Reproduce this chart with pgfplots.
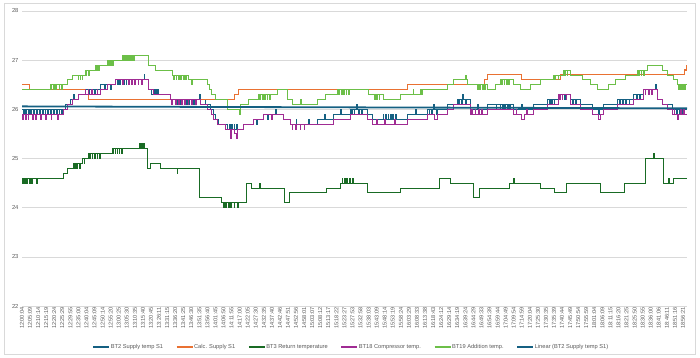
\documentclass[border=0pt]{standalone}
\usepackage{pgfplots}
\pgfplotsset{compat=1.18}
\usepackage{fontspec}
\setmainfont{Liberation Sans}
\definecolor{cBTtwo}{HTML}{156082}
\definecolor{cCalc}{HTML}{E97132}
\definecolor{cBTthree}{HTML}{196B24}
\definecolor{cBTeighteen}{HTML}{A02B93}
\definecolor{cBTnineteen}{HTML}{6CBF48}
\definecolor{cGrid}{HTML}{D9D9D9}
\definecolor{cText}{HTML}{595959}
\begin{document}
\begin{tikzpicture}[x=1pt,y=1pt]
\path[use as bounding box] (0,0) rectangle (700,358);
\draw[cGrid,line width=0.6pt] (4.5,4) rectangle (695,355);
\begin{axis}[
  at={(22pt,52pt)}, anchor=south west,
  scale only axis, width=665pt, height=295pt,
  xmin=0, xmax=82.5, ymin=22, ymax=28,
  ytick={22,23,24,25,26,27,28},
  xtick={0,...,82},
  xticklabels={12:00:04,12:05:09,12:10:14,12:15:19,12:20:24,12:25:29,12:29:55,12:35:00,12:40:04,12:45:09,12:50:14,12:55:20,13:00:25,13:05:30,13:10:35,13:15:40,13:20:45,13:26:11,13:31:15,13:36:20,13:41:25,13:46:30,13:51:35,13:56:40,14:01:45,14:06:50,14:11:55,14:17:00,14:22:05,14:27:30,14:32:35,14:37:40,14:42:46,14:47:51,14:52:56,14:58:01,15:03:07,15:08:12,15:13:17,15:18:22,15:23:27,15:27:53,15:32:58,15:38:03,15:43:09,15:48:14,15:53:19,15:58:24,16:03:29,16:08:33,16:13:38,16:18:43,16:24:12,16:29:14,16:34:19,16:39:24,16:44:29,16:49:33,16:54:39,16:59:44,17:04:49,17:09:54,17:14:59,17:20:04,17:25:30,17:30:35,17:35:39,17:40:44,17:45:49,17:50:54,17:55:59,18:01:04,18:06:09,18:11:15,18:16:20,18:21:25,18:25:50,18:30:55,18:36:00,18:41:06,18:46:11,18:51:16,18:56:21},
  x tick label style={rotate=90, anchor=east, font=\fontsize{5.6}{6}\selectfont, text=cText, inner sep=1pt},
  y tick label style={font=\fontsize{5.8}{6}\selectfont, text=cText},
  /pgf/number format/assume math mode=true,
  major tick length=0pt,
  axis x line*=bottom, axis y line*=left,
  axis line style={draw=none},
  ymajorgrids, grid style={cGrid, line width=0.6pt},
  clip=true,
  legend columns=6,
  legend style={at={(0.4947,-0.139)}, anchor=center, draw=none, fill=none,
    font=\fontsize{5.7}{6}\selectfont, text=cText,
    /tikz/every even column/.append style={column sep=12pt},
    nodes={inner sep=1pt}},
  legend image code/.code={\draw[line width=1.1pt,#1] (0pt,0pt) -- (16pt,0pt);},
]
% BT2 Supply temp S1
\addplot[const plot, cBTtwo, line width=0.9pt] coordinates {
(0,26.0)(0.15,25.9)(0.25,26.0)(0.45,25.9)(0.55,26.0)(0.8,25.9)(0.9,26.0)(1.1,25.9)(1.2,26.0)(1.45,25.9)(1.55,26.0)(1.8,25.9)(1.9,26.0)(2.15,25.9)(2.25,26.0)(2.5,25.9)(2.6,26.0)
(2.85,25.9)(2.95,26.0)(3.2,25.9)(3.3,26.0)(3.55,25.9)(3.65,26.0)(3.9,25.9)(4.0,26.0)(4.25,25.9)(4.35,26.0)(4.6,25.9)(4.7,26.0)(4.95,25.9)(5.05,26.0)
(5.33,26.1)(5.96,26.2)(6.4,26.3)(6.5,26.2)(6.95,26.3)(7.82,26.4)(8.3,26.3)(8.4,26.4)(9.0,26.3)(9.1,26.4)(9.68,26.5)(10.2,26.4)(10.3,26.5)(11.0,26.4)(11.1,26.5)
(11.54,26.6)(11.9,26.5)(12.0,26.6)(12.15,26.5)(12.25,26.6)(12.4,26.5)(12.5,26.6)(12.65,26.5)(12.75,26.6)(12.9,26.5)(13.0,26.6)(14.0,26.5)(14.1,26.6)(15.14,26.7)(15.25,26.6)
(15.63,26.4)(16.0,26.3)(16.3,26.4)(16.4,26.3)(16.55,26.4)(16.65,26.3)(16.8,26.4)(16.9,26.3)
(18.36,26.2)(19.2,26.1)(19.3,26.2)(19.5,26.1)(19.6,26.2)(19.8,26.1)(19.9,26.2)(20.1,26.1)(20.2,26.2)(20.4,26.1)(20.5,26.2)(20.7,26.1)(20.8,26.2)(21.0,26.1)(21.1,26.2)(21.3,26.1)(21.4,26.2)(22.0,26.3)(22.1,26.2)
(22.7,26.1)(23.33,26.0)(23.7,25.9)(23.95,25.8)(24.4,25.7)(25.43,25.6)(25.7,25.7)(25.8,25.6)(26.0,25.7)(26.1,25.6)(26.3,25.7)(26.4,25.6)(26.6,25.7)(26.7,25.6)
(27.42,25.7)(28.66,25.8)(29.1,25.7)(29.2,25.8)(29.9,25.9)(30.5,25.8)(30.6,25.9)(31.5,26.0)(31.6,25.9)(32.38,25.8)(33.25,25.7)(34.0,25.8)(34.1,25.7)(35.5,25.8)(35.6,25.7)
(36.6,25.8)(37.5,25.9)(37.6,25.8)(38.59,25.9)(39.5,26.0)(39.6,25.9)(40.69,26.0)(40.9,25.9)(41.0,26.0)(41.2,25.9)(41.3,26.0)(41.5,26.1)(41.6,26.0)(41.8,25.9)(41.9,26.0)(42.1,25.9)(42.2,26.0)
(42.8,25.9)(43.42,25.8)(44.8,25.9)(44.9,25.8)(45.1,25.9)(45.2,25.8)(45.4,25.9)(45.5,25.8)(45.7,25.9)(45.8,25.8)(46.0,25.9)(46.1,25.8)(46.3,25.9)(46.4,25.8)
(47.77,25.9)(48.8,26.0)(48.9,25.9)(50.25,26.0)(50.5,25.9)(50.6,26.0)(50.8,25.9)(50.9,26.0)(51.1,26.1)(51.2,26.0)(51.4,25.9)(51.5,26.0)
(52.73,26.1)(54.0,26.2)(54.2,26.1)(54.3,26.2)(54.5,26.1)(54.6,26.2)(54.7,26.3)(54.8,26.2)(55.0,26.1)(55.1,26.2)(55.58,26.0)(56.5,26.1)(56.6,26.0)(57.69,26.1)
(58.8,26.0)(58.9,26.1)(59.3,26.0)(59.4,26.1)(59.6,26.0)(59.7,26.1)(59.9,26.0)(60.0,26.1)(60.2,26.0)(60.3,26.1)(60.5,26.0)(60.6,26.1)
(60.92,26.0)(62.0,26.1)(62.1,26.0)(63.4,26.1)(65.14,26.2)(65.4,26.1)(65.5,26.2)(65.7,26.1)(65.8,26.2)(66.0,26.1)(66.1,26.2)
(66.5,26.3)(66.7,26.2)(66.8,26.3)(67.0,26.2)(67.1,26.3)(67.3,26.2)(67.4,26.3)(67.99,26.2)(68.3,26.1)(68.4,26.2)(68.7,26.1)(68.8,26.2)(69.23,26.1)(70.72,26.0)(71.5,25.9)(71.6,26.0)
(72.08,26.1)(73.82,26.2)(74.1,26.1)(74.2,26.2)(74.5,26.1)(74.6,26.2)(74.9,26.1)(75.0,26.2)(75.3,26.1)(75.4,26.2)
(75.81,26.3)(76.2,26.2)(76.3,26.3)(76.6,26.2)(76.7,26.3)(77.05,26.4)(78.54,26.5)(78.65,26.4)(78.78,26.2)(79.4,26.1)(80.65,26.0)
(80.9,25.9)(81.0,26.0)(81.2,25.9)(81.3,26.0)(81.5,25.9)(81.6,26.0)(81.8,25.9)(81.9,26.0)(82.1,25.9)(82.2,26.0)(82.5,26.0)
};
\addlegendentry{BT2 Supply temp S1}
% Calc. Supply S1
\addplot[const plot, cCalc, line width=1pt] coordinates {
(0,26.5)(0.99,26.4)(7.82,26.3)(8.19,26.2)(26.4,26.3)(26.8,26.4)(47.8,26.5)(57.4,26.6)(57.8,26.7)(62.0,26.6)(66.75,26.7)(82.2,26.8)(82.4,26.9)(82.5,26.9)
};
\addlegendentry{Calc. Supply S1}
% BT3 Return temperature
\addplot[const plot, cBTthree, line width=0.9pt] coordinates {
(0,24.6)(0.1,24.5)(0.2,24.6)(0.35,24.5)(0.45,24.6)(0.6,24.5)(0.7,24.6)(0.9,24.5)(1.0,24.6)(1.15,24.5)(1.25,24.6)(1.8,24.5)(1.9,24.6)
(5.09,24.7)(5.58,24.8)(6.33,24.9)(6.5,24.8)(6.6,24.9)(6.8,24.8)(6.9,24.9)(7.1,24.8)(7.2,24.9)(7.44,25.0)(7.7,24.9)(7.8,25.0)
(8.19,25.1)(8.4,25.0)(8.5,25.1)(8.7,25.0)(8.8,25.1)(9.0,25.0)(9.1,25.1)(9.3,25.0)(9.4,25.1)(9.6,25.0)(9.7,25.1)
(11.17,25.2)(11.3,25.1)(11.4,25.2)(11.55,25.1)(11.65,25.2)(11.8,25.1)(11.9,25.2)(12.05,25.1)(12.15,25.2)(12.3,25.1)(12.4,25.2)
(14.6,25.3)(14.7,25.2)(14.85,25.3)(14.95,25.2)(15.1,25.3)(15.2,25.2)
(15.51,24.8)(15.88,24.9)(17.12,24.8)(19.23,24.7)(19.3,24.8)
(22.0,24.2)(24.8,24.1)(25.0,24.0)(25.1,24.1)(25.3,24.0)(25.4,24.1)(25.6,24.0)(25.7,24.1)(25.9,24.0)(26.0,24.1)(26.3,24.0)(26.4,24.1)(26.7,24.0)(26.8,24.1)
(27.8,24.5)(28.5,24.4)(29.5,24.5)(29.6,24.4)(32.6,24.1)(33.2,24.3)(37.8,24.4)(39.5,24.5)(39.7,24.6)(39.8,24.5)(40.0,24.6)(40.1,24.5)(40.3,24.6)(40.4,24.5)(40.6,24.6)(40.7,24.5)(41.0,24.6)(41.1,24.5)
(42.8,24.3)(46.9,24.4)(51.8,24.6)(53.1,24.5)(56.0,24.2)(56.8,24.4)(60.5,24.5)(61.0,24.6)(61.1,24.5)(64.3,24.4)(66.0,24.3)(67.5,24.5)(71.7,24.3)(74.8,24.5)
(77.3,25.0)(78.3,25.1)(78.4,25.0)(79.6,24.5)(80.2,24.6)(80.3,24.5)(80.8,24.6)(82.5,24.6)
};
\addlegendentry{BT3 Return temperature}
% BT18 Compressor temp.
\addplot[const plot, cBTeighteen, line width=0.9pt] coordinates {
(0,25.9)(0.1,25.8)(0.2,25.9)(0.4,25.8)(0.5,25.9)(0.75,25.8)(0.85,25.9)(1.3,25.8)(1.4,25.9)(1.7,25.8)(1.8,25.9)(2.3,25.8)(2.4,25.9)(2.9,25.8)(3.0,25.9)(3.6,25.8)(3.7,25.9)(4.4,25.8)(4.5,25.9)
(5.09,26.0)(5.58,26.1)(6.2,26.2)(6.95,26.3)(7.82,26.4)(7.9,26.3)(8.2,26.4)(8.3,26.3)(8.6,26.4)(8.7,26.3)(9.3,26.4)(9.4,26.3)(9.68,26.4)(10.55,26.5)(11.54,26.6)
(12.5,26.5)(12.6,26.6)(13.2,26.5)(13.3,26.6)(13.6,26.5)(13.7,26.6)(14.0,26.5)(14.1,26.6)(14.4,26.5)(14.5,26.6)(14.8,26.5)(14.9,26.6)
(15.63,26.4)(16.3,26.3)(18.36,26.2)(18.6,26.1)(18.7,26.2)(19.0,26.1)(19.1,26.2)(19.4,26.1)(19.5,26.2)(19.8,26.1)(19.9,26.2)(20.2,26.1)(20.3,26.2)(20.6,26.1)(20.7,26.2)(21.0,26.1)(21.1,26.2)(21.5,26.1)(21.6,26.2)
(22.08,26.1)(23.0,26.0)(23.5,25.9)(23.8,25.8)(24.2,25.7)(25.2,25.6)(25.8,25.4)(25.95,25.6)(26.4,25.5)(26.6,25.4)(26.75,25.6)(27.42,25.7)(28.66,25.8)(29.9,25.9)(31.0,25.8)(31.1,25.9)
(32.38,25.8)(33.25,25.7)(33.5,25.6)(33.6,25.7)(33.9,25.6)(34.0,25.7)(34.5,25.6)(34.6,25.7)(35.0,25.6)(35.1,25.7)
(38.59,25.8)(40.69,25.9)(42.8,25.8)(43.42,25.7)(44.0,25.8)(44.1,25.7)(45.0,25.8)(45.1,25.7)(46.2,25.8)(46.3,25.7)
(47.77,25.8)(50.25,25.9)(51.2,25.8)(51.5,25.9)(52.73,26.0)(53.5,26.1)
(55.58,25.9)(55.8,26.0)(55.9,25.9)(56.2,26.0)(56.3,25.9)(56.6,26.0)(56.7,25.9)(57.0,26.0)(57.1,25.9)
(57.69,26.0)(60.92,25.9)(61.3,26.0)(61.4,25.9)(62.0,25.8)(62.3,25.9)(62.6,26.0)(62.7,25.9)(63.4,26.0)(65.14,26.1)
(66.5,26.3)(66.7,26.2)(66.8,26.3)(67.0,26.2)(67.1,26.3)(67.5,26.2)(67.6,26.3)
(67.99,26.1)(69.23,26.0)(70.72,25.9)(71.5,25.8)(71.8,25.9)(72.08,26.0)(73.82,26.1)(75.81,26.2)(77.05,26.4)(77.3,26.3)(77.4,26.4)(77.7,26.3)(77.8,26.4)(78.1,26.3)(78.2,26.4)
(78.78,26.2)(79.4,26.1)(80.02,26.0)(80.65,25.9)(80.9,26.0)(81.0,25.9)(81.3,25.8)(81.4,25.9)(81.7,26.0)(81.8,25.9)(82.1,26.0)(82.2,25.9)(82.5,25.9)
};
\addlegendentry{BT18 Compressor temp.}
% BT19 Addition temp.
\addplot[const plot, cBTnineteen, line width=0.8pt] coordinates {
(0,26.4)(3.47,26.5)(3.6,26.4)(3.7,26.5)(3.9,26.4)(4.0,26.5)(4.2,26.4)(4.3,26.5)(4.6,26.4)(4.7,26.5)(4.9,26.4)(5.0,26.5)
(5.58,26.6)(6.2,26.7)(6.95,26.6)(7.05,26.7)(7.2,26.6)(7.3,26.7)(7.45,26.6)(7.55,26.7)
(7.82,26.8)(7.95,26.7)(8.05,26.8)(8.2,26.7)(8.3,26.8)(9.06,26.9)(9.2,26.8)(9.3,26.9)(9.45,26.8)(9.55,26.9)
(10.55,27.0)(10.7,26.9)(10.8,27.0)(10.95,26.9)(11.05,27.0)(11.2,26.9)(11.3,27.0)
(12.41,27.1)(12.55,27.0)(12.65,27.1)(12.8,27.0)(12.9,27.1)(13.05,27.0)(13.15,27.1)(13.3,27.0)(13.4,27.1)(13.55,27.0)(13.65,27.1)(13.8,27.0)(13.9,27.1)
(15.63,26.9)(16.5,26.8)(18.6,26.7)(18.8,26.6)(18.9,26.7)(19.1,26.6)(19.2,26.7)(19.4,26.6)(19.5,26.7)(19.7,26.6)(19.8,26.7)(20.0,26.6)(20.1,26.7)(20.3,26.6)(20.4,26.7)
(20.6,26.6)(21.0,26.5)(21.1,26.6)(22.95,26.5)(23.2,26.4)(23.5,26.3)(23.95,26.2)(25.43,26.0)(26.95,25.9)(27.05,26.1)(28.04,26.2)
(29.28,26.3)(29.5,26.2)(29.6,26.3)(29.8,26.2)(29.9,26.3)(30.1,26.2)(30.2,26.3)(30.4,26.2)(30.5,26.3)(30.7,26.2)(30.8,26.3)
(31.64,26.4)(32.88,26.2)(33.5,26.1)(34.5,26.2)(34.6,26.1)(36.6,26.2)(37.59,26.3)
(39.08,26.4)(39.3,26.3)(39.4,26.4)(39.6,26.3)(39.7,26.4)(39.9,26.3)(40.0,26.4)(40.2,26.3)(40.3,26.4)(40.5,26.3)(40.6,26.4)
(42.93,26.3)(43.7,26.2)(43.8,26.3)(44.0,26.2)(44.1,26.3)(44.3,26.2)(44.4,26.3)
(44.79,26.2)(46.9,26.3)(48.5,26.4)(48.6,26.3)(49.38,26.4)(49.6,26.3)(49.7,26.4)
(52.73,26.5)(53.47,26.6)(54.96,26.7)(55.1,26.6)(55.21,26.5)
(56.45,26.4)(56.6,26.5)(56.8,26.4)(56.9,26.5)(57.1,26.4)(57.2,26.5)(57.4,26.4)(57.5,26.5)(57.69,26.4)
(58.7,26.5)(59.31,26.6)(59.5,26.5)(59.6,26.6)(59.8,26.5)(59.9,26.6)(60.1,26.5)(60.2,26.6)(60.4,26.5)(60.5,26.6)
(60.92,26.5)(61.79,26.4)(63.03,26.5)(64.27,26.6)(65.88,26.7)(66.1,26.6)(66.2,26.7)(66.5,26.6)(66.6,26.7)
(67.12,26.8)(67.3,26.7)(67.4,26.8)(67.6,26.7)(67.7,26.8)
(67.99,26.7)(69.48,26.6)(70.47,26.5)(71.34,26.4)(72.70,26.5)(73.57,26.6)(74.81,26.7)
(76.30,26.8)(76.5,26.7)(76.6,26.8)(76.8,26.7)(76.9,26.8)(77.1,26.7)(77.2,26.8)
(77.54,26.9)(79.40,26.8)(80.02,26.7)(80.77,26.6)
(81.27,26.5)(81.4,26.4)(81.5,26.5)(81.65,26.4)(81.75,26.5)(81.9,26.4)(82.0,26.5)(82.15,26.4)(82.25,26.5)(82.5,26.5)
};
\addlegendentry{BT19 Addition temp.}
% Linear trend of BT2
\addplot[cBTtwo, line width=1.8pt] coordinates {(0,26.06)(82.5,26.02)};
\addlegendentry{Linear (BT2 Supply temp S1)}
\end{axis}
\end{tikzpicture}
\end{document}
